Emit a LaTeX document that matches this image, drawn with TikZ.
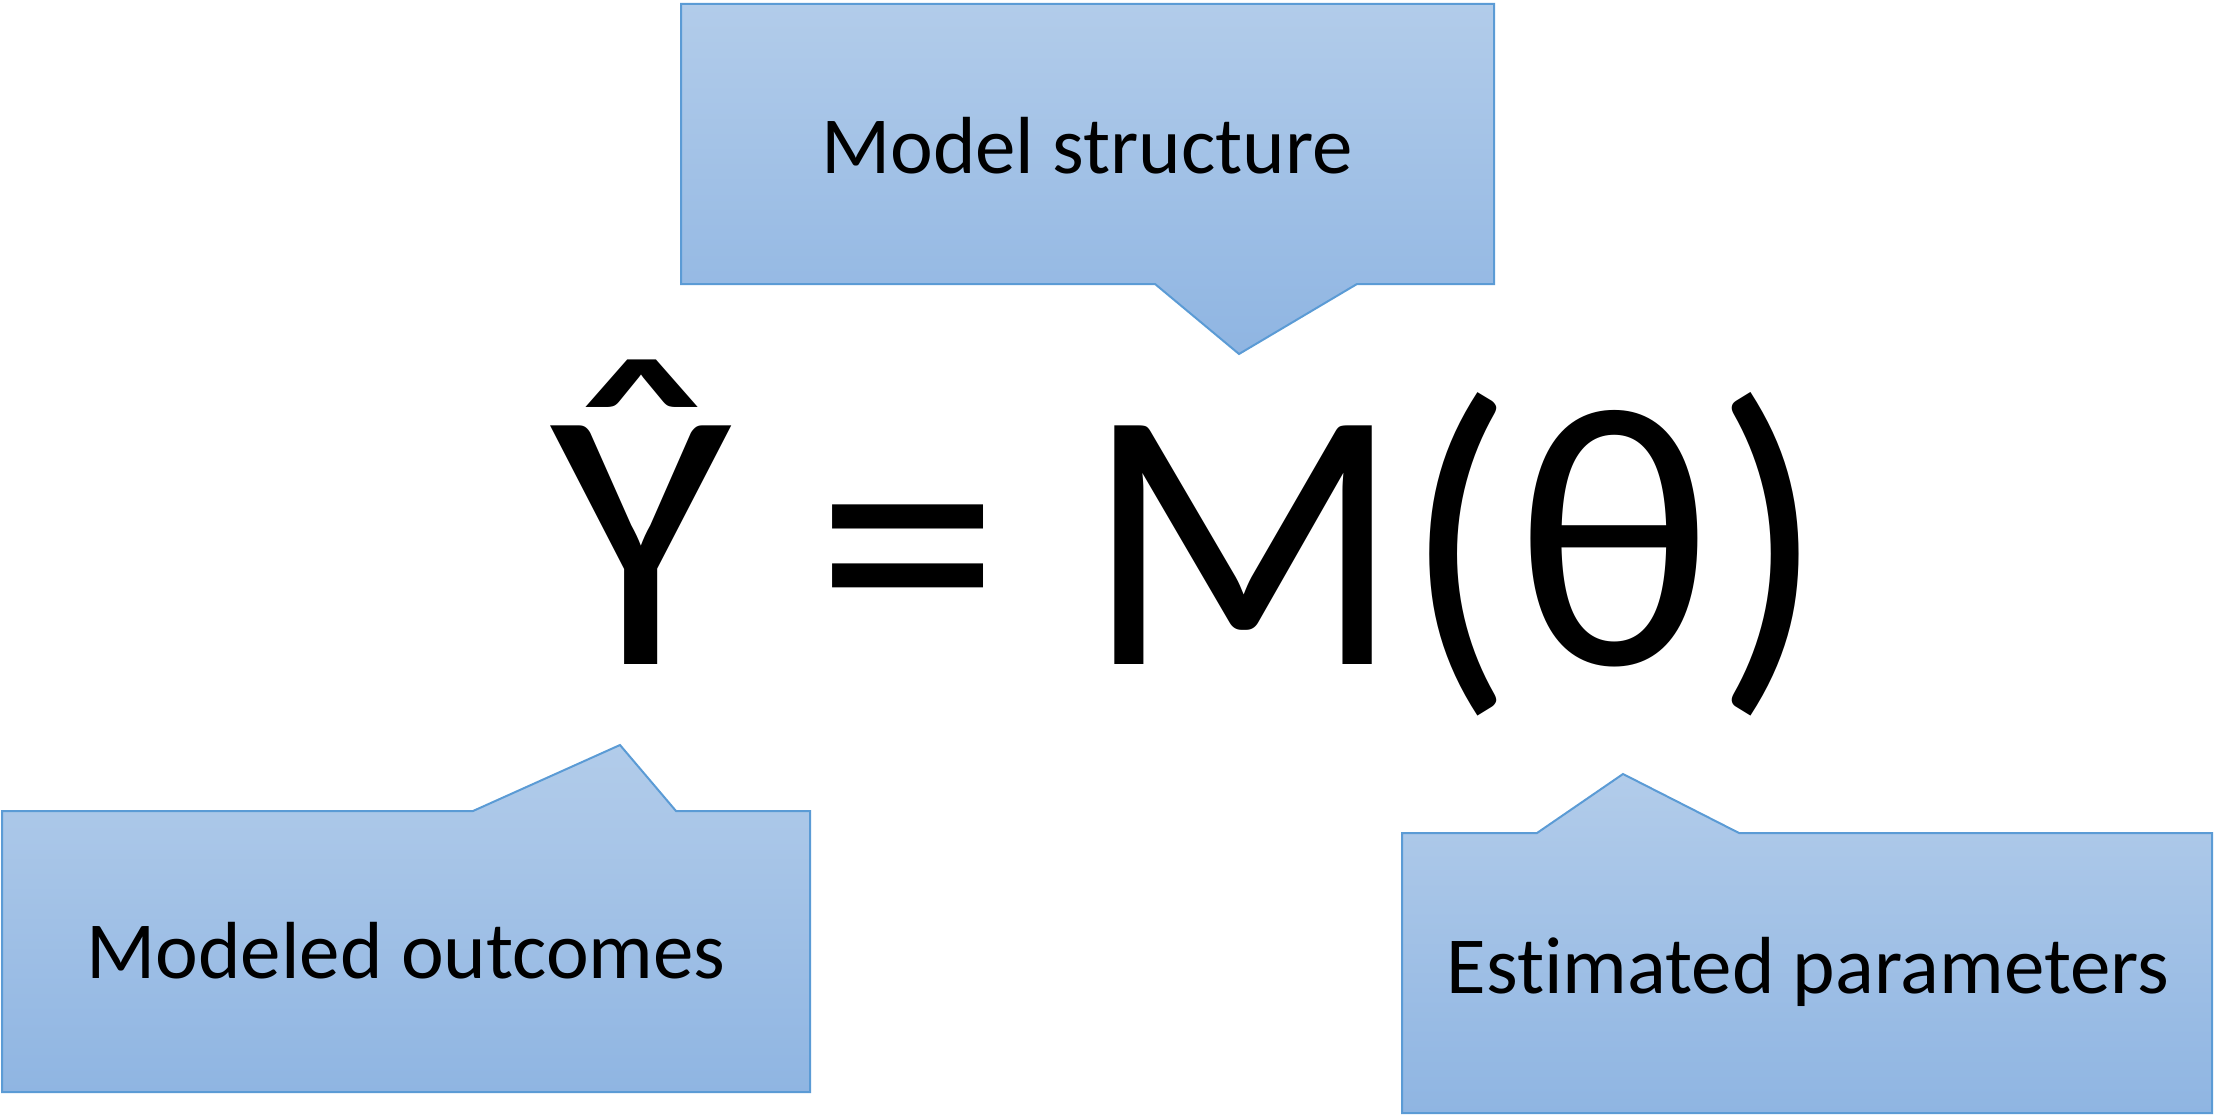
\documentclass[tikz,border=0pt]{standalone}
\usepackage{fontspec}
\setmainfont{Carlito}[Ligatures=NoCommon]
\definecolor{cbtop}{HTML}{B2CCEA}
\definecolor{cbbot}{HTML}{8FB5E2}
\definecolor{cbline}{HTML}{5B9BD5}
\begin{document}
\begin{tikzpicture}[x=1pt,y=-1pt,
  callout/.style={draw=cbline,line width=2pt,top color=cbtop,bottom color=cbbot,line join=miter},
  lbl/.style={font=\fontsize{81}{97}\selectfont,inner sep=0pt,anchor=center},
  eqn/.style={font=\fontsize{372}{440}\selectfont,inner sep=0pt,anchor=base west}]
\useasboundingbox (0,0) rectangle (2227,1118);
% top callout: Model structure
\coordinate (tiptop) at (1239,354);
\path[callout] (681,4) -- (1494,4) -- (1494,284) -- (1357,284) -- (tiptop) -- (1155,284) -- (681,284) -- cycle;
\node[lbl] (ms) at (1087,146) {Model structure};
% bottom-left callout: Modeled outcomes
\coordinate (tipbl) at (620,745);
\path[callout] (2,811) -- (473,811) -- (tipbl) -- (676,811) -- (810,811) -- (810,1092) -- (2,1092) -- cycle;
\node[lbl] (mo) at (406,951) {Modeled outcomes};
% bottom-right callout: Estimated parameters
\coordinate (tipbr) at (1623,774);
\path[callout] (1402,833) -- (1537,833) -- (tipbr) -- (1739,833) -- (2212,833) -- (2212,1113) -- (1402,1113) -- cycle;
\node[lbl] (ep) at (1808,972) {Estimated parameters};
% equation
\node[eqn] (eq) at (550,664) {Ŷ = M(θ)};
\end{tikzpicture}
\end{document}
